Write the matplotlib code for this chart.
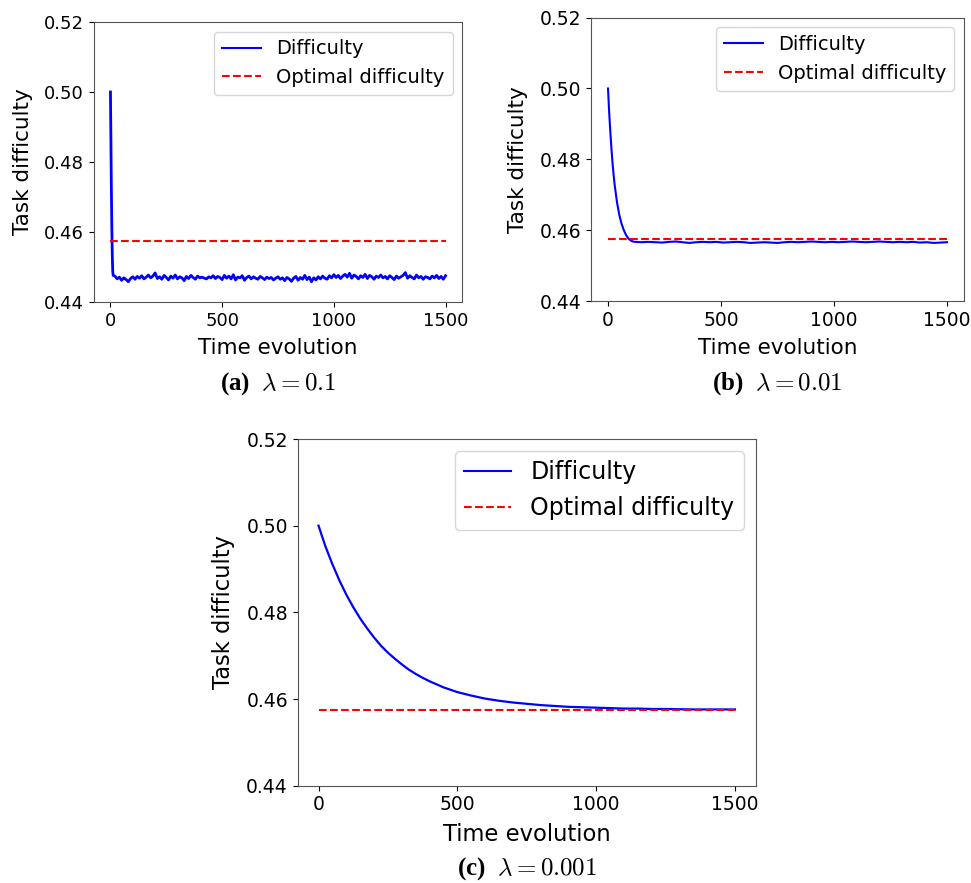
import numpy as np
import matplotlib
matplotlib.use('Agg')
import matplotlib.pyplot as plt

plt.rcParams['mathtext.fontset'] = 'cm'

# optimal difficulty (same in all three runs)
optimal = 0.4575

# (a) lambda = 0.1 : fast drop then noisy plateau
t_a_start = [0, 2, 4, 6, 8, 10, 12]
d_a_start = [0.5000, 0.4860, 0.4730, 0.4620, 0.4540, 0.4490, 0.4476]
t_a_rest = list(range(20, 1501, 10))
d_a_rest = [
    0.4474, 0.4466, 0.4471, 0.4462, 0.4469, 0.4464, 0.4458, 0.4467, 0.4472, 0.4465,
    0.4473, 0.4468, 0.4475, 0.4466, 0.4471, 0.4477, 0.4469, 0.4474, 0.4483, 0.4467,
    0.4472, 0.4465, 0.4476, 0.4470, 0.4463, 0.4474, 0.4468, 0.4477, 0.4466, 0.4472,
    0.4469, 0.4461, 0.4473, 0.4467, 0.4476, 0.4470, 0.4465, 0.4474, 0.4469, 0.4471,
    0.4468, 0.4466, 0.4472, 0.4469, 0.4475, 0.4467, 0.4473, 0.4470, 0.4464, 0.4476,
    0.4468, 0.4474, 0.4466, 0.4478, 0.4463, 0.4471, 0.4469, 0.4475, 0.4462, 0.4470,
    0.4474, 0.4466, 0.4472, 0.4468, 0.4465, 0.4473, 0.4469, 0.4464, 0.4471, 0.4467,
    0.4470, 0.4463, 0.4468, 0.4472, 0.4465, 0.4469, 0.4461, 0.4470, 0.4466, 0.4459,
    0.4468, 0.4473, 0.4462, 0.4470, 0.4465, 0.4476, 0.4464, 0.4471, 0.4458, 0.4469,
    0.4463, 0.4472, 0.4466, 0.4474, 0.4468, 0.4465, 0.4475, 0.4469, 0.4478, 0.4470,
    0.4476, 0.4467, 0.4474, 0.4479, 0.4471, 0.4482, 0.4468, 0.4477, 0.4473, 0.4466,
    0.4475, 0.4470, 0.4479, 0.4467, 0.4476, 0.4472, 0.4465, 0.4474, 0.4470, 0.4477,
    0.4469, 0.4473, 0.4466, 0.4475, 0.4470, 0.4464, 0.4474, 0.4468, 0.4472, 0.4476,
    0.4484, 0.4468, 0.4475, 0.4470, 0.4466, 0.4477, 0.4469, 0.4473, 0.4465, 0.4472,
    0.4470, 0.4466, 0.4474, 0.4469, 0.4476, 0.4467, 0.4473, 0.4465, 0.4475,
]

# (b) lambda = 0.01
t_b_start = [0, 5, 10, 15, 20, 25, 30, 40, 50, 60, 70, 80, 90, 100, 110]
d_b_start = [0.5000, 0.4935, 0.4880, 0.4832, 0.4790, 0.4755, 0.4725, 0.4678,
             0.4643, 0.4618, 0.4600, 0.4586, 0.4577, 0.4571, 0.4568]
t_b_rest = list(range(120, 1501, 30))
d_b_rest = [
    0.4567, 0.4566, 0.4567, 0.4566, 0.4565, 0.4567, 0.4568, 0.4566, 0.4564, 0.4566,
    0.4567, 0.4566, 0.4567, 0.4565, 0.4566, 0.4567, 0.4566, 0.4564, 0.4565, 0.4566,
    0.4565, 0.4564, 0.4566, 0.4567, 0.4566, 0.4567, 0.4568, 0.4567, 0.4566, 0.4567,
    0.4566, 0.4567, 0.4568, 0.4567, 0.4566, 0.4567, 0.4568, 0.4567, 0.4566, 0.4567,
    0.4566, 0.4567, 0.4565, 0.4566, 0.4564, 0.4565, 0.4566,
]

# (c) lambda = 0.001 : slow smooth decay
t_c = [0, 25, 50, 75, 100, 125, 150, 175, 200, 225, 250, 275, 300, 325, 350,
       375, 400, 450, 500, 550, 600, 650, 700, 750, 800, 850, 900, 950, 1000,
       1050, 1100, 1150, 1200, 1250, 1300, 1350, 1400, 1450, 1500]
d_c = [0.5000, 0.4952, 0.4911, 0.4874, 0.4841, 0.4812, 0.4786, 0.4763, 0.4742,
       0.4723, 0.4707, 0.4693, 0.4680, 0.4668, 0.4658, 0.4649, 0.4641, 0.4627,
       0.4616, 0.4608, 0.4601, 0.4596, 0.4592, 0.4589, 0.4586, 0.4584, 0.4582,
       0.4581, 0.4580, 0.4579, 0.4578, 0.4578, 0.4577, 0.4577, 0.45765, 0.4576,
       0.4576, 0.4576, 0.4576]

yticks = [0.44, 0.46, 0.48, 0.50, 0.52]
xticks = [0, 500, 1000, 1500]

panels = [
    (t_a_start + t_a_rest, d_a_start + d_a_rest, [0.0965, 0.658, 0.3796, 0.3171],
     '(a)', r'$\lambda = 0.1$', 13, 15.5, 14, 2.0, -0.29),
    (t_b_start + t_b_rest, d_b_start + d_b_rest, [0.6087, 0.6591, 0.3841, 0.3209],
     '(b)', r'$\lambda = 0.01$', 13.5, 15.5, 14, 1.5, -0.29),
    (t_c, d_c, [0.3066, 0.1102, 0.4717, 0.3926],
     '(c)', r'$\lambda = 0.001$', 13.5, 16.3, 17, 1.6, -0.24),
]

fig = plt.figure(figsize=(9.71, 8.83), dpi=100)

for t, d, pos, tag, lam, tfs, lfs, legfs, lw, capy in panels:
    ax = fig.add_axes(pos)
    ax.plot(t, d, 'b', lw=lw, label='Difficulty')
    ax.plot([0, 1500], [optimal, optimal], 'r--', label='Optimal difficulty')
    ax.set_ylim(0.44, 0.52)
    ax.set_yticks(yticks)
    ax.set_yticklabels(['%.2f' % v for v in yticks])
    ax.set_xticks(xticks)
    ax.tick_params(labelsize=tfs)
    ax.set_xlabel('Time evolution', fontsize=lfs, labelpad=6)
    ax.set_ylabel('Task difficulty', fontsize=lfs, labelpad=8)
    for s in ax.spines.values():
        s.set_color('#555555')
    leg = ax.legend(loc='upper right', fontsize=legfs)
    leg.get_lines()[0].set_linewidth(1.5)
    # caption below each panel: bold tag + math
    ax.text(0.5, capy, tag + r'  ' + lam, transform=ax.transAxes,
            ha='center', va='center', fontsize=18,
            family='Liberation Serif', weight='bold')

fig.savefig('out.png', dpi=100)
